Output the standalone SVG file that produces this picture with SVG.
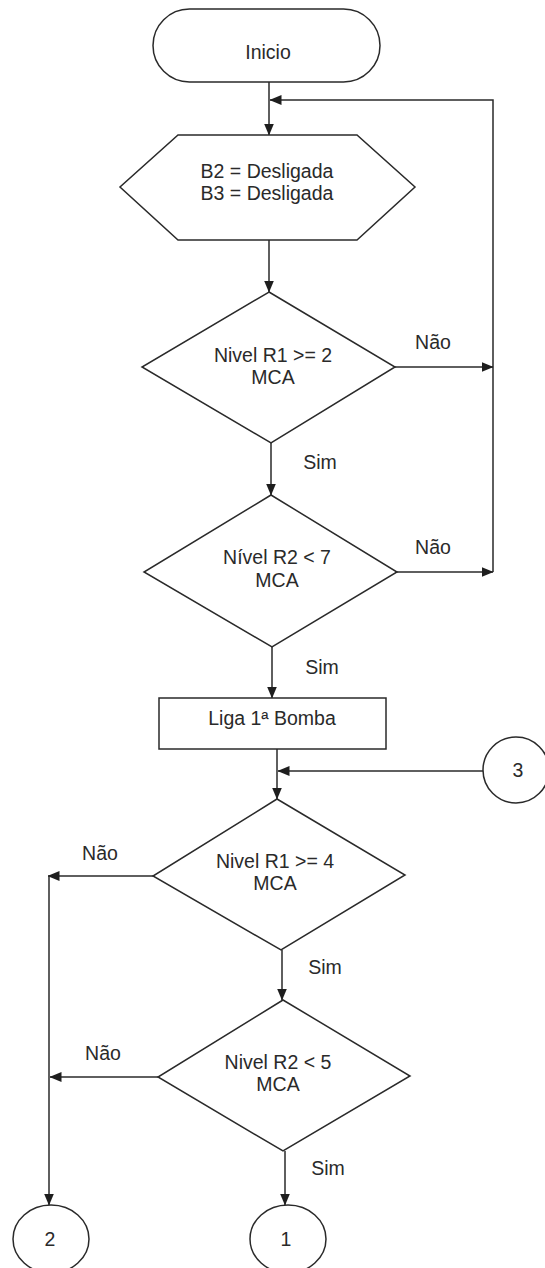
<svg xmlns="http://www.w3.org/2000/svg" width="545" height="1268" viewBox="0 0 545 1268">
<style>
.s{fill:#fff;stroke:#2a2a2a;stroke-width:1.5}
.t{font-family:"Liberation Sans",Arial,sans-serif;font-size:19.5px;fill:#2a2a2a;text-anchor:middle}
.c{fill:none;stroke:#2a2a2a;stroke-width:1.5}
</style>
<defs>
<marker id="ah" markerWidth="12" markerHeight="10" refX="11.5" refY="5" orient="auto" markerUnits="userSpaceOnUse">
<path d="M0,0 L12,5 L0,10 z" fill="#1e1e1e"/>
</marker>
</defs>
<rect width="545" height="1268" fill="#fff"/>
<g id="connectors">
<line class="c" x1="269" y1="82" x2="269" y2="135" marker-end="url(#ah)"/>
<polyline class="c" points="493,572 493,100 270,100" marker-end="url(#ah)"/>
<line class="c" x1="269" y1="240" x2="269" y2="292" marker-end="url(#ah)"/>
<line class="c" x1="395" y1="367" x2="493" y2="367" marker-end="url(#ah)"/>
<line class="c" x1="271" y1="443" x2="271" y2="495" marker-end="url(#ah)"/>
<line class="c" x1="397" y1="572" x2="493" y2="572" marker-end="url(#ah)"/>
<line class="c" x1="272" y1="647" x2="272" y2="698" marker-end="url(#ah)"/>
<line class="c" x1="277" y1="749" x2="277" y2="799" marker-end="url(#ah)"/>
<line class="c" x1="483" y1="771" x2="278" y2="771" marker-end="url(#ah)"/>
<line class="c" x1="153" y1="876" x2="48" y2="876" marker-end="url(#ah)"/>
<line class="c" x1="49" y1="876" x2="49" y2="1205" marker-end="url(#ah)"/>
<line class="c" x1="282" y1="950" x2="282" y2="1000" marker-end="url(#ah)"/>
<line class="c" x1="158" y1="1077" x2="50" y2="1077" marker-end="url(#ah)"/>
<line class="c" x1="285" y1="1151" x2="285" y2="1205" marker-end="url(#ah)"/>
<text class="t" x="433" y="349">Não</text>
<text class="t" x="320" y="469">Sim</text>
<text class="t" x="433" y="554">Não</text>
<text class="t" x="322" y="674">Sim</text>
<text class="t" x="100" y="860">Não</text>
<text class="t" x="325" y="974">Sim</text>
<text class="t" x="103" y="1060">Não</text>
<text class="t" x="328" y="1175">Sim</text>
</g>
<g id="inicio">
<rect class="s" x="153" y="9" width="227" height="73" rx="36.5"/>
<text class="t" x="268" y="59">Inicio</text>
</g>
<g id="preparo">
<polygon class="s" points="178,135 357,135 415,187 357,240 178,240 120,187"/>
<text class="t" x="267" y="178">B2 = Desligada</text>
<text class="t" x="267" y="200">B3 = Desligada</text>
</g>
<g id="d1">
<polygon class="s" points="269,292 395,367 271,443 142,367"/>
<text class="t" x="273" y="362">Nivel R1 &gt;= 2</text>
<text class="t" x="273" y="384">MCA</text>
</g>
<g id="d2">
<polygon class="s" points="271,495 397,572 272,647 144,572"/>
<text class="t" x="277" y="564">Nível R2 &lt; 7</text>
<text class="t" x="277" y="587">MCA</text>
</g>
<g id="liga">
<rect class="s" x="159" y="698" width="227" height="51"/>
<text class="t" x="272" y="725">Liga 1ª Bomba</text>
</g>
<g id="c3">
<circle class="s" cx="516" cy="770" r="33"/>
<text class="t" x="518" y="777">3</text>
</g>
<g id="d3">
<polygon class="s" points="277,799 405,875 281,950 153,876"/>
<text class="t" x="275" y="868">Nivel R1 &gt;= 4</text>
<text class="t" x="275" y="890">MCA</text>
</g>
<g id="d4">
<polygon class="s" points="283,1000 410,1076 283,1151 158,1077"/>
<text class="t" x="278" y="1069">Nivel R2 &lt; 5</text>
<text class="t" x="278" y="1091">MCA</text>
</g>
<g id="c2">
<ellipse class="s" cx="51" cy="1239" rx="38" ry="34"/>
<text class="t" x="50" y="1246">2</text>
</g>
<g id="c1">
<ellipse class="s" cx="288" cy="1239" rx="38" ry="34"/>
<text class="t" x="286" y="1246">1</text>
</g>
</svg>
